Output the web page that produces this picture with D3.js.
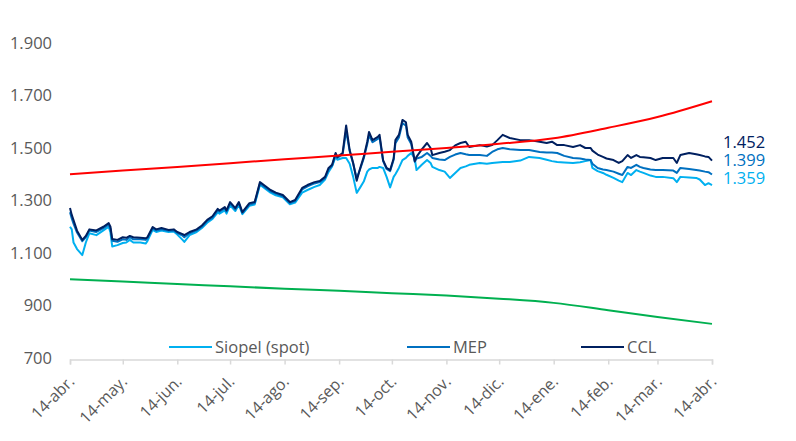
<!DOCTYPE html>
<html>
<head>
<meta charset="utf-8">
<script src="https://cdn.jsdelivr.net/npm/d3@7"></script>
<style>
  body { margin: 0; background: #fff; }
  text { font-family: 'Open Sans', sans-serif; fill: #595959; }
</style>
</head>
<body>
<div class="graph"></div>
<script>
var dates = ['2025-04-14','2025-04-15','2025-04-16','2025-04-18','2025-04-21','2025-04-23','2025-04-25','2025-04-29',
  '2025-05-03','2025-05-06','2025-05-07','2025-05-08','2025-05-11','2025-05-14','2025-05-16','2025-05-18','2025-05-20',
  '2025-05-24','2025-05-27','2025-05-28','2025-05-31','2025-06-02','2025-06-05','2025-06-09','2025-06-12','2025-06-14',
  '2025-06-17','2025-06-18','2025-06-21','2025-06-25','2025-06-28','2025-07-01','2025-07-04','2025-07-07','2025-07-08',
  '2025-07-11','2025-07-12','2025-07-14','2025-07-17','2025-07-19','2025-07-21','2025-07-25','2025-07-28','2025-07-31',
  '2025-08-03','2025-08-06','2025-08-09','2025-08-13','2025-08-17','2025-08-20','2025-08-24','2025-08-27','2025-08-31',
  '2025-09-03','2025-09-06','2025-09-08','2025-09-10','2025-09-12','2025-09-13','2025-09-16','2025-09-18','2025-09-20',
  '2025-09-22','2025-09-24','2025-09-26','2025-09-28','2025-09-30','2025-10-01','2025-10-03','2025-10-06','2025-10-07',
  '2025-10-09','2025-10-11','2025-10-13','2025-10-15','2025-10-16','2025-10-18','2025-10-20','2025-10-22','2025-10-23',
  '2025-10-25','2025-10-27','2025-10-28','2025-10-31','2025-11-03','2025-11-05','2025-11-06','2025-11-10','2025-11-13',
  '2025-11-16','2025-11-19','2025-11-22','2025-11-25','2025-11-27','2025-12-03','2025-12-07','2025-12-10','2025-12-13',
  '2025-12-16','2025-12-20','2025-12-26','2025-12-31','2026-01-06','2026-01-10','2026-01-13','2026-01-16','2026-01-20',
  '2026-01-25','2026-01-29','2026-02-01','2026-02-04','2026-02-05','2026-02-08','2026-02-11','2026-02-13','2026-02-17',
  '2026-02-20','2026-02-22','2026-02-25','2026-02-27','2026-03-02','2026-03-04','2026-03-06','2026-03-10','2026-03-13',
  '2026-03-17','2026-03-23','2026-03-25','2026-03-27','2026-04-01','2026-04-05','2026-04-07','2026-04-10','2026-04-12',
  '2026-04-14'];

var ccl = [1271,1245,1225,1185,1150,1165,1190,1186,
  1200,1214,1200,1153,1150,1160,1158,1165,1160,
  1158,1156,1160,1199,1190,1195,1188,1190,1180,
  1172,1168,1180,1190,1205,1226,1240,1268,1262,
  1275,1262,1294,1271,1294,1256,1290,1294,1370,
  1355,1340,1330,1321,1294,1302,1348,1359,1370,
  1374,1390,1424,1436,1481,1466,1481,1586,1492,
  1443,1375,1424,1466,1524,1561,1530,1542,1550,
  1454,1424,1416,1460,1530,1550,1607,1598,1550,
  1524,1450,1466,1495,1519,1500,1473,1481,1486,
  1492,1510,1519,1524,1504,1511,1506,1511,1530,
  1550,1538,1530,1530,1524,1519,1524,1511,1511,
  1504,1511,1500,1500,1490,1475,1466,1460,1454,
  1443,1450,1473,1462,1473,1466,1465,1462,1454,
  1462,1462,1443,1473,1481,1476,1473,1468,1466,
  1452];

var mep = [1255,1232,1212,1178,1145,1160,1186,1180,
  1195,1208,1192,1147,1143,1152,1150,1160,1152,
  1152,1150,1155,1194,1186,1190,1185,1186,1176,
  1166,1160,1175,1186,1200,1222,1235,1262,1258,
  1270,1258,1288,1266,1290,1252,1285,1290,1365,
  1350,1335,1326,1316,1290,1298,1342,1354,1365,
  1370,1385,1418,1432,1475,1462,1476,1565,1488,
  1440,1385,1420,1460,1515,1548,1522,1535,1540,
  1450,1420,1412,1455,1518,1540,1595,1585,1540,
  1515,1447,1460,1466,1481,1470,1462,1456,1454,
  1466,1475,1481,1476,1473,1473,1470,1485,1495,
  1500,1495,1492,1492,1485,1483,1483,1481,1470,
  1462,1460,1456,1454,1440,1424,1418,1416,1410,
  1402,1397,1428,1424,1436,1428,1424,1418,1416,
  1416,1414,1405,1424,1420,1416,1414,1410,1408,
  1399];

var siopel = [1200,1190,1140,1115,1092,1140,1175,1168,
  1186,1200,1178,1125,1130,1138,1140,1150,1140,
  1140,1136,1145,1188,1180,1186,1180,1182,1170,
  1150,1142,1168,1180,1195,1215,1230,1255,1250,
  1262,1250,1282,1260,1284,1248,1280,1285,1360,
  1345,1330,1320,1312,1286,1292,1330,1340,1352,
  1359,1380,1409,1430,1466,1455,1462,1462,1440,
  1390,1329,1350,1372,1410,1418,1424,1424,1428,
  1424,1390,1350,1390,1400,1424,1454,1462,1470,
  1481,1460,1416,1436,1454,1443,1428,1416,1410,
  1386,1405,1424,1430,1436,1443,1440,1443,1445,
  1447,1447,1452,1466,1462,1455,1450,1447,1445,
  1443,1446,1450,1454,1424,1412,1405,1398,1386,
  1376,1370,1405,1397,1416,1410,1405,1395,1390,
  1390,1385,1370,1390,1388,1386,1380,1359,1366,
  1359];

// band limits (monthly)
var bandDates = ['2025-04-14','2025-05-14','2025-06-14','2025-07-14','2025-08-14','2025-09-14','2025-10-14',
  '2025-11-14','2025-12-14','2026-01-14','2026-02-14','2026-03-14','2026-04-14'];
var techo = [1400,1414,1428,1442,1457,1471,1486,1500,1516,1537,1577,1618,1678];
var piso = [1000,991,982,973,964,956,947,938,926,910,882,856,830];

var yTicks = [700, 900, 1100, 1300, 1500, 1700, 1900];
var xTickLabels = ['14-abr.','14-may.','14-jun.','14-jul.','14-ago.','14-sep.','14-oct.','14-nov.',
  '14-dic.','14-ene.','14-feb.','14-mar.','14-abr.'];

var seriesNames = ['Siopel (spot)', 'MEP', 'CCL'],
    seriesColors = ['#00b0f0', '#0070c0', '#002060'];

var width = 796, height = 441;

var parse = d3.timeParse('%Y-%m-%d');
var es = d3.formatLocale({decimal: ',', thousands: '.', grouping: [3], currency: ['$', '']});
var fmt = es.format(',.0f');

var x = d3.scaleTime().domain([parse('2025-04-14'), parse('2026-04-14')]).range([70, 712]),
    y = d3.scaleLinear().domain([700, 1900]).range([358, 43]);

var svg = d3.select('.graph')
            .append('svg')
            .attr('width', width)
            .attr('height', height);

// y labels (no axis line)
svg.append('g')
   .selectAll('text')
   .data(yTicks)
   .enter()
   .append('text')
   .attr('x', 52)
   .attr('y', function(d) { return y(d); })
   .attr('dy', '.35em')
   .attr('text-anchor', 'end')
   .style('font-size', '16.5px')
   .text(function(d) { return fmt(d); });

// x axis
var tickDates = xTickLabels.map(function(d, i) { return d3.timeMonth.offset(parse('2025-04-14'), i); });
var xAxis = d3.axisBottom(x)
              .tickValues(tickDates)
              .tickSize(5)
              .tickFormat(function(d, i) { return xTickLabels[i]; });

var gx = svg.append('g')
            .attr('transform', 'translate(0,' + (y(700) + 1.5) + ')')
            .call(xAxis);

gx.select('.domain').attr('stroke', '#d9d9d9').attr('stroke-width', 1.5);
gx.selectAll('.tick line').attr('stroke', '#d9d9d9').attr('stroke-width', 1.5);
gx.selectAll('.tick text')
  .attr('text-anchor', 'end')
  .attr('dy', 0)
  .attr('y', 0)
  .attr('transform', 'translate(5,23) rotate(-45)')
  .style('font-size', '16px')
  .style('fill', '#595959');

var line = d3.line()
             .x(function(d) { return x(d[0]); })
             .y(function(d) { return y(d[1]); });

var bandLine = d3.line()
                 .curve(d3.curveMonotoneX)
                 .x(function(d) { return x(d[0]); })
                 .y(function(d) { return y(d[1]); });

function pairs(ds, vs) {
  return ds.map(function(d, i) { return [parse(d), vs[i]]; });
}

svg.append('path')
   .attr('d', bandLine(pairs(bandDates, piso)))
   .attr('fill', 'none')
   .attr('stroke', '#00b050')
   .attr('stroke-width', 2);

var series = [siopel, mep, ccl];
series.forEach(function(vs, i) {
  svg.append('path')
     .attr('d', line(pairs(dates, vs)))
     .attr('fill', 'none')
     .attr('stroke', seriesColors[i])
     .attr('stroke-width', 2)
     .attr('stroke-linejoin', 'round');
});

svg.append('path')
   .attr('d', bandLine(pairs(bandDates, techo)))
   .attr('fill', 'none')
   .attr('stroke', '#ff0000')
   .attr('stroke-width', 2);

// last values
var endY = [178, 160, 142];
series.forEach(function(vs, i) {
  svg.append('text')
     .attr('x', 723)
     .attr('y', endY[i])
     .attr('dy', '.35em')
     .style('font-size', '16.5px')
     .style('fill', seriesColors[i])
     .text(fmt(vs[vs.length - 1]));
});

// legend
var legendX = [169, 407, 581];
var legend = svg.selectAll('.legend')
                .data(seriesNames)
                .enter()
                .append('g')
                .attr('class', 'legend')
                .attr('transform', function(d, i) { return 'translate(' + legendX[i] + ',347)'; });

legend.append('line')
      .attr('x1', 0)
      .attr('x2', 43)
      .attr('stroke', function(d, i) { return seriesColors[i]; })
      .attr('stroke-width', 2);

legend.append('text')
      .attr('x', 46)
      .attr('dy', '.35em')
      .style('font-size', '16.5px')
      .text(function(d) { return d; });
</script>
</body>
</html>
